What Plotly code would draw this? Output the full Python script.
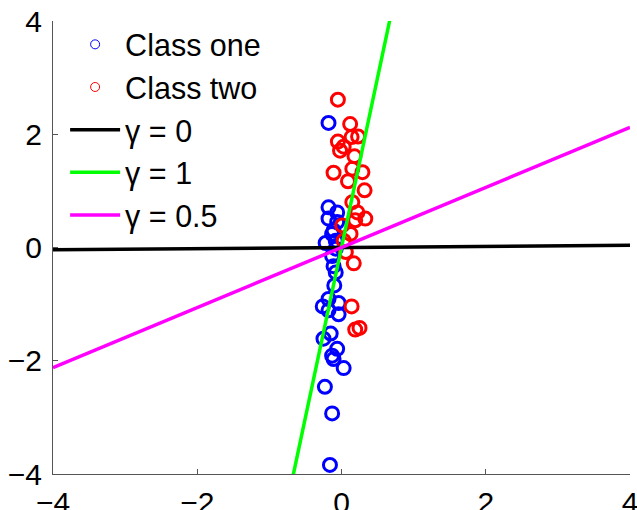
import plotly.graph_objects as go

# Class one (blue) points
c1_x = [-0.18, -0.18, -0.06, -0.18, -0.06, -0.11, -0.13, -0.22, -0.08, -0.08, -0.13, -0.11,
        -0.08, -0.10, -0.18, -0.26, -0.04, -0.18, -0.04, -0.15, -0.25, -0.06, -0.13, -0.11,
        0.03, -0.23, -0.13, -0.16]
c1_y = [2.20, 0.71, 0.62, 0.51, 0.45, 0.30, 0.24, 0.08, 0.12, -0.02, -0.15, -0.33,
        -0.44, -0.67, -0.91, -1.04, -0.98, -1.11, -1.18, -1.52, -1.61, -1.79, -1.91, -1.97,
        -2.13, -2.46, -2.93, -3.84]

# Class two (red) points
c2_x = [-0.05, 0.12, 0.23, 0.14, -0.05, 0.03, -0.02, 0.18, -0.11, 0.15, 0.29, 0.09,
        0.32, 0.15, 0.22, 0.33, 0.19, 0.01, 0.125, 0.03, 0.06, 0.17, 0.14, 0.19, 0.25]
c2_y = [2.61, 2.18, 1.96, 1.95, 1.87, 1.78, 1.71, 1.61, 1.32, 1.39, 1.33, 1.17,
        1.01, 0.80, 0.62, 0.51, 0.48, 0.39, 0.24, 0.12, -0.08, -0.28, -1.04, -1.45, -1.42]

# Decision lines y = slope * x
line_names = ["γ = 0", "γ = 1", "γ = 0.5"]
line_slopes = [0.01, 6.0, 0.53]
line_colors = ["#000000", "#00ff00", "#ff00ff"]
line_x = [-4, 4]

tick_vals = [-4, -2, 0, 2, 4]

fig = go.Figure()

# legend-only entries for the classes (small thin circles like the reference)
fig.add_trace(go.Scatter(x=[None], y=[None], mode="markers", name="Class one",
                         marker=dict(symbol="circle-open", size=9, color="#0000ff",
                                     line=dict(width=1, color="#0000ff"))))
fig.add_trace(go.Scatter(x=[None], y=[None], mode="markers", name="Class two",
                         marker=dict(symbol="circle-open", size=9, color="#ff0000",
                                     line=dict(width=1, color="#ff0000"))))

fig.add_trace(go.Scatter(x=c1_x, y=c1_y, mode="markers", showlegend=False,
                         marker=dict(symbol="circle-open", size=13, color="#0000ff",
                                     line=dict(width=3, color="#0000ff"))))
fig.add_trace(go.Scatter(x=c2_x, y=c2_y, mode="markers", showlegend=False,
                         marker=dict(symbol="circle-open", size=13, color="#ff0000",
                                     line=dict(width=3, color="#ff0000"))))

for name, s, col in zip(line_names, line_slopes, line_colors):
    fig.add_trace(go.Scatter(x=line_x, y=[s * v for v in line_x], mode="lines", name=name,
                             line=dict(color=col, width=3.5)))

axis_common = dict(range=[-4, 4], tickvals=tick_vals, ticks="inside", ticklen=5,
                   tickcolor="#555555", showline=True, linecolor="#555555", linewidth=1,
                   showgrid=False, zeroline=False, tickfont=dict(size=30, color="black"),
                   automargin=False, ticklabeloverflow="allow")

fig.update_layout(
    width=637, height=510,
    margin=dict(l=53, r=7, t=21, b=36),
    paper_bgcolor="white", plot_bgcolor="white",
    font=dict(family="Liberation Sans, Arial, sans-serif", size=30, color="black"),
    xaxis=dict(axis_common, ticklabelstandoff=2),
    yaxis=dict(axis_common, ticklabelstandoff=4),
    legend=dict(x=0.021, y=1.0066, xanchor="left", yanchor="top", bgcolor="rgba(0,0,0,0)",
                borderwidth=0, font=dict(size=30.5), itemwidth=50, tracegroupgap=0),
)

fig.write_html("out.html")
